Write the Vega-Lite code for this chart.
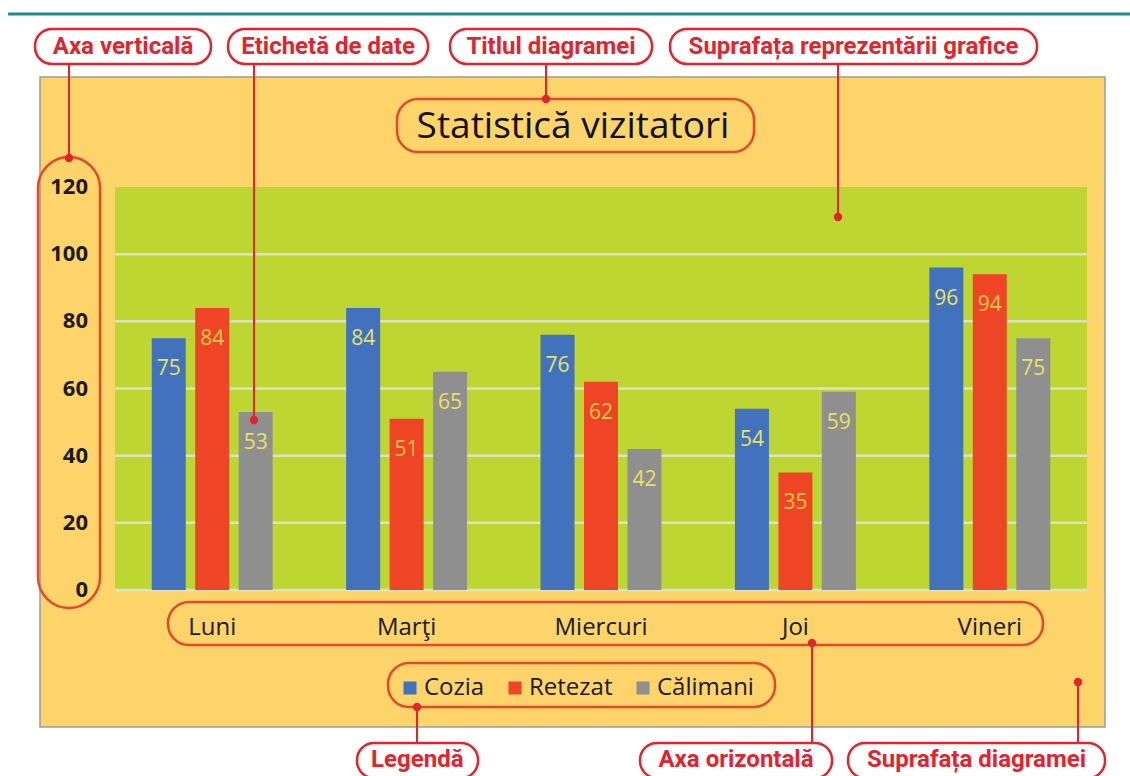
{
  "$schema": "https://vega.github.io/schema/vega-lite/v6.json",
  "width": 972,
  "height": 403,
  "autosize": {"type": "none"},
  "padding": {"left": 115, "top": 187, "right": 43, "bottom": 186},
  "background": "#FFFFFF",
  "config": {"view": {"stroke": null}, "font": "Open Sans"},
  "datasets": {
    "visits": [
      {"day": "Luni", "series": "Cozia", "value": 75},
      {"day": "Luni", "series": "Retezat", "value": 84},
      {"day": "Luni", "series": "Călimani", "value": 53},
      {"day": "Marţi", "series": "Cozia", "value": 84},
      {"day": "Marţi", "series": "Retezat", "value": 51},
      {"day": "Marţi", "series": "Călimani", "value": 65},
      {"day": "Miercuri", "series": "Cozia", "value": 76},
      {"day": "Miercuri", "series": "Retezat", "value": 62},
      {"day": "Miercuri", "series": "Călimani", "value": 42},
      {"day": "Joi", "series": "Cozia", "value": 54},
      {"day": "Joi", "series": "Retezat", "value": 35},
      {"day": "Joi", "series": "Călimani", "value": 59},
      {"day": "Vineri", "series": "Cozia", "value": 96},
      {"day": "Vineri", "series": "Retezat", "value": 94},
      {"day": "Vineri", "series": "Călimani", "value": 75}
    ],
    "days": [{"day": "Luni"}, {"day": "Marţi"}, {"day": "Miercuri"}, {"day": "Joi"}, {"day": "Vineri"}],
    "grid": [{"level": 0}, {"level": 20}, {"level": 40}, {"level": 60}, {"level": 80}, {"level": 100}],
    "ticks": [{"level": 0}, {"level": 20}, {"level": 40}, {"level": 60}, {"level": 80}, {"level": 100}, {"level": 120}],
    "notes": [
      {"note": "Axa verticală", "a": 0.0885, "b": 0.9938, "c": 0.5412, "lo": 156.63, "hi": 167.05, "mid": 161.69},
      {"note": "Etichetă de date", "a": 1.0813, "b": 2.1101, "c": 1.5957, "lo": 156.63, "hi": 167.05, "mid": 161.69},
      {"note": "Titlul diagramei", "a": 2.2233, "b": 3.2623, "c": 2.7428, "lo": 156.63, "hi": 167.05, "mid": 161.69},
      {"note": "Suprafața reprezentării grafice", "a": 3.3549, "b": 5.2428, "c": 4.2989, "lo": 156.63, "hi": 167.05, "mid": 161.69},
      {"note": "Legendă", "a": 1.7449, "b": 2.3673, "c": 2.0550, "lo": -55.98, "hi": -45.56, "mid": -50.62},
      {"note": "Axa orizontală", "a": 3.2006, "b": 4.1883, "c": 3.6944, "lo": -55.98, "hi": -45.56, "mid": -50.62},
      {"note": "Suprafața diagramei", "a": 4.2706, "b": 5.5926, "c": 4.9316, "lo": -55.98, "hi": -45.56, "mid": -50.62}
    ],
    "callouts": [
      {"at": 0.2634, "from": 156.63, "to": 128.64},
      {"at": 1.2150, "from": 156.63, "to": 50.62},
      {"at": 2.7171, "from": 156.63, "to": 146.20},
      {"at": 4.2191, "from": 156.63, "to": 111.07},
      {"at": 2.0535, "from": -45.56, "to": -34.84},
      {"at": 4.0854, "from": -45.56, "to": -15.78},
      {"at": 5.4537, "from": -45.56, "to": -27.39}
    ],
    "frames": [
      {"a": 0.7726, "b": 5.2737, "lo": -16.38, "hi": -3.57},
      {"a": 1.9043, "b": 3.8951, "lo": -34.84, "hi": -21.74},
      {"a": 1.9506, "b": 3.7870, "lo": 130.42, "hi": 146.20}
    ]
  },
  "layer": [
    {
      "data": {"values": [{}]},
      "layer": [
        {
          "mark": {"type": "rule", "color": "#23898C", "strokeWidth": 3, "clip": false},
          "encoding": {
            "x": {"datum": -0.05, "type": "quantitative", "scale": {"domain": [0.5, 5.5], "nice": false, "zero": false}, "axis": null},
            "x2": {"datum": 5.73},
            "y": {"datum": 171.5, "type": "quantitative", "scale": {"domain": [0, 120]}, "axis": null}
          }
        },
        {
          "mark": {"type": "rect", "fill": "#FCD46A", "stroke": "#9C9C9C", "strokeWidth": 1.5, "clip": false},
          "encoding": {
            "x": {"datum": 0.1142, "type": "quantitative", "scale": {"domain": [0.5, 5.5], "nice": false, "zero": false}, "axis": null},
            "x2": {"datum": 5.5926},
            "y": {"datum": 152.75, "type": "quantitative", "scale": {"domain": [0, 120]}, "axis": null},
            "y2": {"datum": -40.79}
          }
        }
      ]
    },
    {
      "layer": [
        {
          "data": {"values": [{}]},
          "mark": {"type": "rect", "color": "#BED631"},
          "encoding": {
            "y": {"datum": 0, "type": "quantitative", "scale": {"domain": [0, 120]}, "axis": null},
            "y2": {"datum": 120}
          }
        },
        {
          "data": {"name": "grid"},
          "mark": {"type": "rule", "color": "#DEE2C2", "strokeWidth": 2.5},
          "encoding": {
            "y": {"field": "level", "type": "quantitative", "scale": {"domain": [0, 120]}, "axis": null}
          }
        }
      ]
    },
    {
      "layer": [
        {
          "data": {"name": "visits"},
          "mark": {"type": "bar"},
          "encoding": {
            "x": {
              "field": "day", "type": "nominal", "sort": ["Luni", "Marţi", "Miercuri", "Joi", "Vineri"],
              "scale": {"domain": ["Luni", "Marţi", "Miercuri", "Joi", "Vineri"], "paddingInner": 0.378, "paddingOuter": 0.189},
              "axis": null
            },
            "xOffset": {"field": "series", "type": "nominal", "sort": ["Cozia", "Retezat", "Călimani"], "scale": {"paddingInner": 0.218, "paddingOuter": 0}},
            "y": {"field": "value", "type": "quantitative", "scale": {"domain": [0, 120]}, "axis": null},
            "color": {
              "field": "series", "type": "nominal",
              "scale": {"domain": ["Cozia", "Retezat", "Călimani"], "range": ["#4271BD", "#EE4527", "#8F8F8F"]},
              "legend": {"title": null, "orient": "none", "direction": "horizontal", "legendX": 283, "legendY": 489, "symbolType": "square", "symbolSize": 169, "symbolStrokeWidth": 0, "labelFontSize": 24, "labelColor": "#1A1A1A", "labelOffset": 2, "columnPadding": 18, "padding": 0}
            }
          }
        },
        {
          "data": {"name": "visits"},
          "mark": {"type": "text", "baseline": "middle", "dy": 31, "fontSize": 21},
          "encoding": {
            "x": {"field": "day", "type": "nominal", "sort": ["Luni", "Marţi", "Miercuri", "Joi", "Vineri"], "axis": null},
            "xOffset": {"field": "series", "type": "nominal", "sort": ["Cozia", "Retezat", "Călimani"]},
            "y": {"field": "value", "type": "quantitative", "scale": {"domain": [0, 120]}, "axis": null},
            "text": {"field": "value", "type": "quantitative"},
            "color": {"condition": {"test": "datum.series === 'Retezat'", "value": "#F8C845"}, "value": "#E9E35E"}
          }
        },
        {
          "data": {"name": "days"},
          "mark": {"type": "text", "baseline": "middle", "align": "center", "fontSize": 24, "color": "#1A1A1A", "clip": false},
          "encoding": {
            "x": {"field": "day", "type": "nominal", "sort": ["Luni", "Marţi", "Miercuri", "Joi", "Vineri"], "axis": null},
            "y": {"datum": -11.2, "type": "quantitative", "scale": {"domain": [0, 120]}, "axis": null},
            "text": {"field": "day", "type": "nominal"}
          }
        }
      ]
    },
    {
      "layer": [
        {
          "data": {"name": "ticks"},
          "mark": {"type": "text", "baseline": "middle", "align": "right", "fontSize": 22, "fontWeight": "bold", "color": "#1A1A1A", "clip": false},
          "encoding": {
            "x": {"datum": 0.3611, "type": "quantitative", "scale": {"domain": [0.5, 5.5], "nice": false, "zero": false}, "axis": null},
            "y": {"field": "level", "type": "quantitative", "scale": {"domain": [0, 120]}, "axis": null},
            "text": {"field": "level", "type": "quantitative"}
          }
        },
        {
          "data": {"name": "frames"},
          "mark": {"type": "rect", "filled": false, "stroke": "#E8472A", "strokeWidth": 2.5, "cornerRadius": 21, "clip": false},
          "encoding": {
            "x": {"field": "a", "type": "quantitative", "scale": {"domain": [0.5, 5.5], "nice": false, "zero": false}, "axis": null},
            "x2": {"field": "b"},
            "y": {"field": "lo", "type": "quantitative", "scale": {"domain": [0, 120]}, "axis": null},
            "y2": {"field": "hi"}
          }
        },
        {
          "data": {"values": [{}]},
          "mark": {"type": "rect", "filled": false, "stroke": "#E8472A", "strokeWidth": 2.5, "cornerRadius": 31, "clip": false},
          "encoding": {
            "x": {"datum": 0.1039, "type": "quantitative", "scale": {"domain": [0.5, 5.5], "nice": false, "zero": false}, "axis": null},
            "x2": {"datum": 0.4228},
            "y": {"datum": -5.36, "type": "quantitative", "scale": {"domain": [0, 120]}, "axis": null},
            "y2": {"datum": 128.93}
          }
        },
        {
          "data": {"name": "callouts"},
          "mark": {"type": "rule", "color": "#E3232D", "strokeWidth": 2, "clip": false},
          "encoding": {
            "x": {"field": "at", "type": "quantitative", "scale": {"domain": [0.5, 5.5], "nice": false, "zero": false}, "axis": null},
            "y": {"field": "from", "type": "quantitative", "scale": {"domain": [0, 120]}, "axis": null},
            "y2": {"field": "to"}
          }
        },
        {
          "data": {"name": "callouts"},
          "mark": {"type": "point", "filled": true, "color": "#E3232D", "size": 70, "opacity": 1, "clip": false},
          "encoding": {
            "x": {"field": "at", "type": "quantitative", "scale": {"domain": [0.5, 5.5], "nice": false, "zero": false}, "axis": null},
            "y": {"field": "to", "type": "quantitative", "scale": {"domain": [0, 120]}, "axis": null}
          }
        },
        {
          "data": {"name": "notes"},
          "mark": {"type": "rect", "fill": "#FFFFFF", "stroke": "#E3232D", "strokeWidth": 2.5, "cornerRadius": 17, "clip": false},
          "encoding": {
            "x": {"field": "a", "type": "quantitative", "scale": {"domain": [0.5, 5.5], "nice": false, "zero": false}, "axis": null},
            "x2": {"field": "b"},
            "y": {"field": "lo", "type": "quantitative", "scale": {"domain": [0, 120]}, "axis": null},
            "y2": {"field": "hi"}
          }
        },
        {
          "data": {"name": "notes"},
          "mark": {"type": "text", "font": "Roboto", "fontWeight": "bold", "fontSize": 24, "color": "#E3232D", "baseline": "middle", "align": "center", "clip": false},
          "encoding": {
            "x": {"field": "c", "type": "quantitative", "scale": {"domain": [0.5, 5.5], "nice": false, "zero": false}, "axis": null},
            "y": {"field": "mid", "type": "quantitative", "scale": {"domain": [0, 120]}, "axis": null},
            "text": {"field": "note", "type": "nominal"}
          }
        },
        {
          "data": {"values": [{}]},
          "mark": {"type": "text", "fontSize": 37, "color": "#111111", "baseline": "middle", "align": "center", "clip": false},
          "encoding": {
            "x": {"datum": 2.856, "type": "quantitative", "scale": {"domain": [0.5, 5.5], "nice": false, "zero": false}, "axis": null},
            "y": {"datum": 137.87, "type": "quantitative", "scale": {"domain": [0, 120]}, "axis": null},
            "text": {"value": "Statistică vizitatori"}
          }
        }
      ]
    }
  ],
  "resolve": {"scale": {"x": "independent"}}
}
